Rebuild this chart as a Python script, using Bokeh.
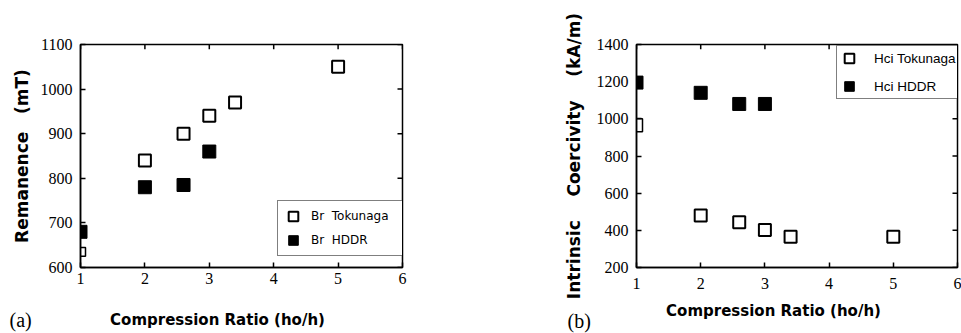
from bokeh.plotting import figure
from bokeh.models import Range1d, LinearAxis, FixedTicker, Legend, LegendItem
from bokeh.core.properties import value
from bokeh.layouts import row, column
from bokeh.embed import file_html
from bokeh.resources import INLINE

# (a) remanence against compression ratio
ratio_br_tok = [2, 2.6, 3, 3.4, 5]
br_tokunaga = [840, 900, 940, 970, 1050]
ratio_br_hddr = [1, 2, 2.6, 3]
br_hddr = [680, 780, 785, 860]

# (b) intrinsic coercivity against compression ratio
ratio_hci_tok = [2, 2.6, 3, 3.4, 5]
hci_tokunaga = [480, 443, 402, 366, 366]
ratio_hci_hddr = [1, 2, 2.6, 3]
hci_hddr = [1195, 1140, 1080, 1080]

x_ticks = [1, 2, 3, 4, 5, 6]
br_ticks = [600, 700, 800, 900, 1000, 1100]
hci_ticks = [200, 400, 600, 800, 1000, 1200, 1400]

# broken-axis notch on each y axis (value span)
br_break = [625, 645]
hci_break = [930, 1000]

x_title = "Compression Ratio (ho/h)"
panel_tags = ["(a)", "(b)"]

SERIF = "Liberation Serif"
BOLD_SANS = "DejaVu Sans"
NB = "\u00a0"
TICK_PX = 5
PANEL_H = 300
STRIP_H = 33


def make_panel(width, borders, y_lo, y_hi, yticks, ylabel, ylabel_size, ylabel_standoff,
               x_standoff, tx, ty, hx, hy, labels, legend_loc, legend_opts, brk, brk_px):
    left, right, top, bottom = borders
    frame_w = width - left - right
    frame_h = PANEL_H - top - bottom
    p = figure(width=width, height=PANEL_H, output_backend="svg", toolbar_location=None,
               x_range=Range1d(1, 6), y_range=Range1d(y_lo, y_hi),
               x_axis_type=None, y_axis_type=None,
               min_border_left=left, min_border_right=right,
               min_border_top=top, min_border_bottom=bottom)
    p.xgrid.visible = False
    p.ygrid.visible = False
    p.outline_line_color = "black"
    p.outline_line_width = 1.5
    p.background_fill_color = "white"
    p.border_fill_color = "white"

    xax = LinearAxis(ticker=FixedTicker(ticks=x_ticks))
    yax = LinearAxis(ticker=FixedTicker(ticks=yticks))
    p.add_layout(xax, "below")
    p.add_layout(yax, "left")
    for ax in [xax, yax]:
        ax.axis_line_color = "black"
        ax.axis_line_width = 1.5
        ax.major_tick_line_color = "black"
        ax.major_tick_line_width = 1.5
        ax.major_tick_in = TICK_PX
        ax.major_tick_out = 0
        ax.minor_tick_line_color = None
        ax.major_label_text_font = SERIF
        ax.major_label_text_font_size = "16px"
        ax.major_label_text_color = "black"
    xax.major_label_standoff = x_standoff
    yax.major_label_standoff = 8

    yax.axis_label = ylabel
    yax.axis_label_text_font = BOLD_SANS
    yax.axis_label_text_font_style = "bold"
    yax.axis_label_text_font_size = ylabel_size
    yax.axis_label_standoff = ylabel_standoff
    yax.axis_label_text_color = "black"

    # inward ticks mirrored on the top and right edges of the frame
    dy = TICK_PX * (y_hi - y_lo) / frame_h
    dx = TICK_PX * 5 / frame_w
    p.segment(x0=x_ticks, y0=[y_hi] * len(x_ticks), x1=x_ticks, y1=[y_hi - dy] * len(x_ticks),
              line_color="black", line_width=1.5)
    p.segment(x0=[6] * len(yticks), y0=yticks, x1=[6 - dx] * len(yticks), y1=yticks,
              line_color="black", line_width=1.5)

    # notch marking the broken y axis
    d = brk_px * 5 / frame_w
    p.line(x=[1, 1 + d, 1 + d, 1], y=[brk[1], brk[1], brk[0], brk[0]],
           line_color="black", line_width=1.5)

    r_tok = p.scatter(tx, ty, marker="square", size=12, fill_color="white",
                      line_color="black", line_width=2)
    r_hddr = p.scatter(hx, hy, marker="square", size=13, fill_color="black",
                       line_color="black", line_width=1)

    legend = Legend(items=[LegendItem(label=labels[0], renderers=[r_tok]),
                           LegendItem(label=labels[1], renderers=[r_hddr])],
                    location=legend_loc, orientation="vertical",
                    border_line_color="black", border_line_width=1.5,
                    background_fill_color="white", background_fill_alpha=1.0,
                    margin=0, glyph_width=24, glyph_height=24, label_height=24,
                    label_text_color="black", **legend_opts)
    p.add_layout(legend)
    return p


p_a = make_panel(480, (80, 78, 44, PANEL_H - 276), 600, 1100, br_ticks,
                 "Remanence" + NB * 3 + "(mT)", "17px", 6, 5,
                 ratio_br_tok, br_tokunaga, ratio_br_hddr, br_hddr,
                 ["Br" + NB * 2 + "Tokunaga", "Br" + NB * 2 + "HDDR"], (197, 11),
                 dict(padding=3, spacing=0, label_standoff=6, label_width=92,
                      label_text_font="DejaVu Sans", label_text_font_size="12px"),
                 br_break, 5)

p_b = make_panel(481, (156, 4, 37, PANEL_H - 267), 200, 1400, hci_ticks,
                 "Intrinsic" + NB * 4 + "Coercivity" + NB * 4 + "(kA/m)", "17px", 10, 10,
                 ratio_hci_tok, hci_tokunaga, ratio_hci_hddr, hci_hddr,
                 ["Hci Tokunaga", "Hci HDDR"], (200, 168),
                 dict(padding=0, spacing=4, label_standoff=13, label_width=84,
                      label_text_font="Liberation Sans", label_text_font_size="13.5px"),
                 hci_break, 6)

# strip under both panels holding the x-axis titles and the panel tags (pixel coordinates)
strip = figure(width=961, height=STRIP_H, output_backend="svg", toolbar_location=None,
               x_range=Range1d(0, 961), y_range=Range1d(PANEL_H + STRIP_H, PANEL_H),
               x_axis_type=None, y_axis_type=None,
               min_border_left=0, min_border_right=0, min_border_top=0, min_border_bottom=0)
strip.xgrid.visible = False
strip.ygrid.visible = False
strip.outline_line_color = None
strip.background_fill_color = "white"
strip.border_fill_color = "white"
strip.text(x=[217, 773], y=[319, 310], text=[x_title, x_title],
           text_font=value(BOLD_SANS), text_font_style="bold", text_font_size="15px",
           text_align="center", text_baseline="middle", text_color="black")
strip.text(x=[9, 567], y=[319, 320], text=panel_tags,
           text_font=value(SERIF), text_font_size="20px",
           text_align="left", text_baseline="middle", text_color="black")

layout = column(row(p_a, p_b), strip)
open("out.html", "w").write(file_html(layout, INLINE))
